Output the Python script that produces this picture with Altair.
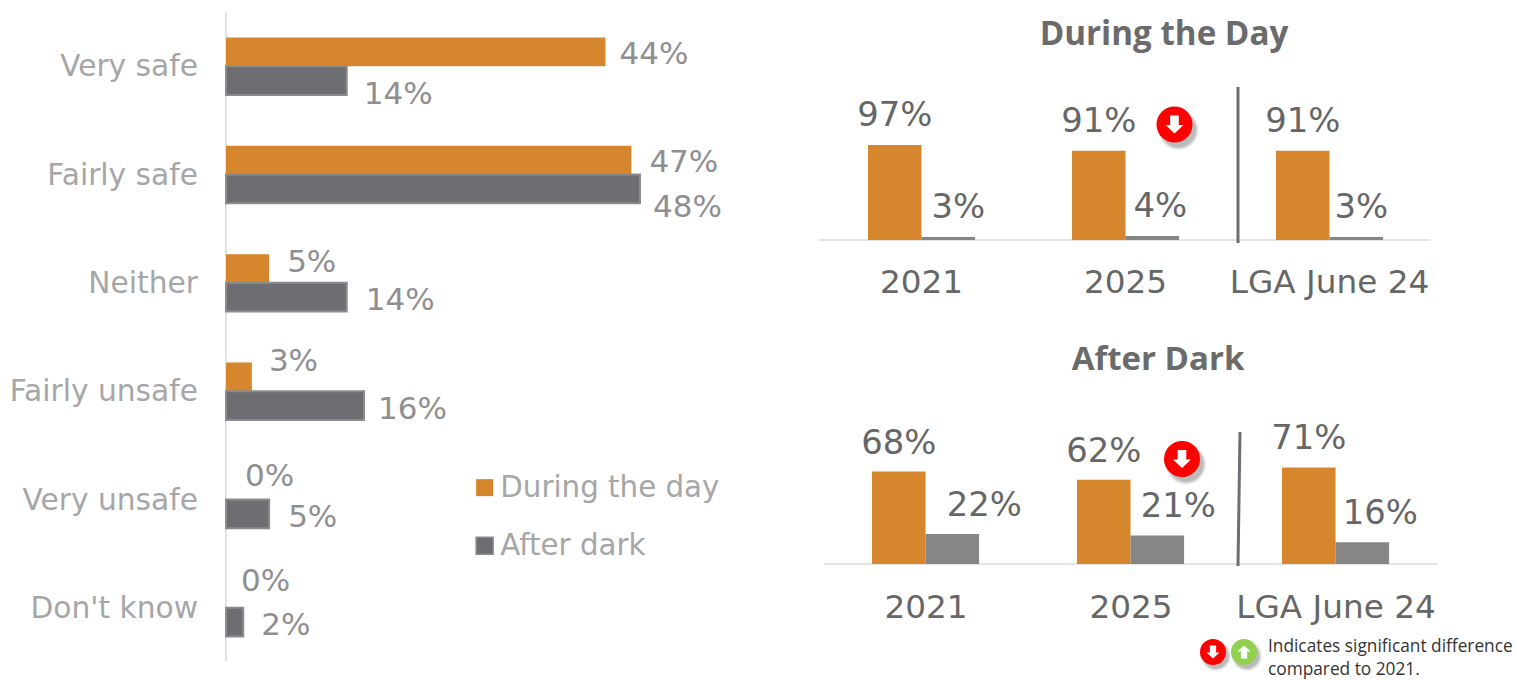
import altair as alt
import pandas as pd

# Overall perception of safety by time of day
CATEGORIES = ["Very safe", "Fairly safe", "Neither", "Fairly unsafe", "Very unsafe", "Don't know"]
DAY_VALUES = [44, 47, 5, 3, 0, 0]
DARK_VALUES = [14, 48, 14, 16, 5, 2]
SERIES = ["During the day", "After dark"]

# Net safe / net unsafe comparison across survey waves
WAVES = ["2021", "2025", "LGA June 24"]
DAY_SAFE = [97, 91, 91]
DAY_UNSAFE = [3, 4, 3]
DARK_SAFE = [68, 62, 71]
DARK_UNSAFE = [22, 21, 16]
MEASURES = ["Safe", "Unsafe"]

ORANGE = "#D6862D"
DARK_GREY = "#6D6E71"
MID_GREY = "#868686"
LABEL_GREY = "#A6A6A8"
VALUE_GREY = "#8F8F91"
RIGHT_TEXT = "#666666"
FONT = "DejaVu Sans"
TITLE_FONT = "Open Sans"

# Hand placement of value labels that sit away from their bars: (dx, dy)
LEFT_NUDGE = {
    ("Very safe", SERIES[0]): (14, 3), ("Very safe", SERIES[1]): (17, 14),
    ("Fairly safe", SERIES[0]): (18, 3), ("Fairly safe", SERIES[1]): (13, 19),
    ("Neither", SERIES[0]): (18, -5), ("Neither", SERIES[1]): (19, 4),
    ("Fairly unsafe", SERIES[0]): (17, -15), ("Fairly unsafe", SERIES[1]): (14, 4),
    ("Very unsafe", SERIES[0]): (19, -8), ("Very unsafe", SERIES[1]): (19, 4),
    ("Don't know", SERIES[0]): (15, -11), ("Don't know", SERIES[1]): (18, 4),
}
TOP_NUDGE = {("2021", "Unsafe"): 10, ("2025", "Unsafe"): 8, ("LGA June 24", "Unsafe"): 5}
BOTTOM_NUDGE = {("2021", "Unsafe"): 32, ("2025", "Unsafe"): 21, ("LGA June 24", "Unsafe"): 18}

ARROW_DOWN = "M-0.24,-0.5 L0.24,-0.5 L0.24,0.03 L0.5,0.03 L0,0.5 L-0.5,0.03 L-0.24,0.03 Z"
ARROW_UP = "M-0.24,0.5 L0.24,0.5 L0.24,-0.03 L0.5,-0.03 L0,-0.5 L-0.5,-0.03 L-0.24,-0.03 Z"

left_rows = pd.DataFrame(
    [{"category": c, "series": SERIES[0], "value": d} for c, d in zip(CATEGORIES, DAY_VALUES)]
    + [{"category": c, "series": SERIES[1], "value": d} for c, d in zip(CATEGORIES, DARK_VALUES)]
)
left_rows["label"] = left_rows["value"].astype(str) + "%"

blank = pd.DataFrame({"k": [0]})


def fixed_text(text, x, y, size, color, font=FONT, weight="normal", align="center"):
    return (
        alt.Chart(blank)
        .mark_text(text=text, fontSize=size, color=color, font=font, fontWeight=weight,
                   align=align, baseline="middle")
        .encode(x=alt.value(x), y=alt.value(y))
    )


def badge(x, y, radius, fill, arrow):
    # Circle with a soft drop shadow built from stacked translucent discs
    parts = []
    for grow, alpha in [(5, 0.05), (3, 0.08), (1, 0.10), (-1, 0.14)]:
        parts.append(
            alt.Chart(blank)
            .mark_circle(color="#333333", opacity=alpha, size=(2 * (radius + grow / 2)) ** 2)
            .encode(x=alt.value(x + radius * 0.22), y=alt.value(y + radius * 0.3))
        )
    parts.append(
        alt.Chart(blank).mark_circle(color=fill, opacity=1, size=(2 * radius) ** 2).encode(
            x=alt.value(x), y=alt.value(y))
    )
    parts.append(
        alt.Chart(blank)
        .mark_point(shape=arrow, filled=True, color="white", opacity=1, size=(radius * 2.0) ** 2, strokeWidth=0)
        .encode(x=alt.value(x), y=alt.value(y))
    )
    return parts


# Left-hand grouped bars
left_y = alt.Y("category:N", axis=None, sort=CATEGORIES,
               scale=alt.Scale(domain=CATEGORIES, range=[12, 662], paddingInner=0.47, paddingOuter=0.235))
left_x = alt.X("value:Q", axis=None, scale=alt.Scale(domain=[0, 48], range=[226, 640]))
left_offset = alt.YOffset("series:N", sort=SERIES, scale=alt.Scale(domain=SERIES))

left_layers = [
    alt.Chart(blank).mark_rule(color="#E3E3E3", strokeWidth=2).encode(
        x=alt.value(226), y=alt.value(12), y2=alt.value(662)),
    alt.Chart(left_rows).mark_bar(strokeWidth=2).encode(
        x=left_x, y=left_y, yOffset=left_offset,
        color=alt.Color("series:N", sort=SERIES,
                        scale=alt.Scale(domain=SERIES, range=[ORANGE, DARK_GREY]),
                        legend=alt.Legend(
                            orient="none", legendX=470, legendY=473, title=None,
                            symbolType="square", symbolSize=290, labelFontSize=29.3,
                            labelFont=FONT, labelColor=LABEL_GREY, labelOffset=1,
                            rowPadding=28, symbolOpacity=1, labelLimit=400)),
        stroke=alt.Stroke("series:N", sort=SERIES, legend=None,
                          scale=alt.Scale(domain=SERIES, range=["transparent", "#8B8C8E"])),
    ),
    alt.Chart(pd.DataFrame({"category": CATEGORIES})).mark_text(
        align="right", baseline="middle", dy=1, fontSize=29.7, color=LABEL_GREY, font=FONT
    ).encode(x=alt.value(198), y=alt.Y("category:N", axis=None, sort=CATEGORIES), text="category:N"),
]
for _, row in left_rows.iterrows():
    dx, dy = LEFT_NUDGE[(row["category"], row["series"])]
    left_layers.append(
        alt.Chart(pd.DataFrame([row.to_dict()]))
        .mark_text(align="left", baseline="middle", fontSize=31, color=VALUE_GREY, font=FONT, dx=dx, dy=dy)
        .encode(x=left_x, y=left_y, yOffset=left_offset, text="label:N")
    )
left_panel = alt.layer(*left_layers)


def wave_panel(safe, unsafe, x_range, y_range, band_pad, base_x, base_y, label_y, nudge, label_dy):
    rows = pd.DataFrame(
        [{"wave": w, "measure": MEASURES[0], "value": v} for w, v in zip(WAVES, safe)]
        + [{"wave": w, "measure": MEASURES[1], "value": v} for w, v in zip(WAVES, unsafe)]
    )
    rows["label"] = rows["value"].astype(str) + "%"
    x = alt.X("wave:N", axis=None, sort=WAVES,
              scale=alt.Scale(domain=WAVES, range=x_range, paddingInner=band_pad, paddingOuter=band_pad / 2))
    y = alt.Y("value:Q", axis=None, scale=alt.Scale(domain=[0, 100], range=y_range))
    offset = alt.XOffset("measure:N", sort=MEASURES, scale=alt.Scale(domain=MEASURES))
    layers = [
        alt.Chart(blank).mark_rule(color="#E4E4E4", strokeWidth=2).encode(
            x=alt.value(base_x[0]), x2=alt.value(base_x[1]), y=alt.value(base_y)),
        alt.Chart(rows).mark_bar().encode(
            x=x, y=y, xOffset=offset,
            color=alt.Color("measure:N", sort=MEASURES, legend=None,
                            scale=alt.Scale(domain=MEASURES, range=[ORANGE, MID_GREY])),
        ),
        alt.Chart(pd.DataFrame({"wave": WAVES})).mark_text(
            fontSize=32.7, color=RIGHT_TEXT, font=FONT, baseline="middle"
        ).encode(x=alt.X("wave:N", axis=None, sort=WAVES), y=alt.value(label_y), text="wave:N"),
    ]
    for _, row in rows.iterrows():
        layers.append(
            alt.Chart(pd.DataFrame([row.to_dict()]))
            .mark_text(fontSize=33.8, color=RIGHT_TEXT, font=FONT, baseline="middle",
                       dx=nudge.get((row["wave"], row["measure"]), 0), dy=label_dy)
            .encode(x=x, y=y, xOffset=offset, text="label:N")
        )
    return alt.layer(*layers).resolve_scale(color="shared")


top_panel = wave_panel(DAY_SAFE, DAY_UNSAFE, [819.5, 1431.5], [240, 142], 0.475,
                       (819, 1430), 240, 283, TOP_NUDGE, -29)
bottom_panel = wave_panel(DARK_SAFE, DARK_UNSAFE, [823.5, 1438.5], [564, 428], 0.473,
                          (824, 1437), 564, 608, BOTTOM_NUDGE, -28)

annotations = [
    fixed_text("During the Day", 1164, 34.5, 33.2, "#6B6B6B", TITLE_FONT, "bold"),
    fixed_text("After Dark", 1158, 359.5, 33, "#6B6B6B", TITLE_FONT, "bold"),
    alt.Chart(blank).mark_rule(color=DARK_GREY, strokeWidth=3).encode(
        x=alt.value(1238), y=alt.value(87), y2=alt.value(243)),
    alt.Chart(blank).mark_rule(color=DARK_GREY, strokeWidth=3).encode(
        x=alt.value(1240), x2=alt.value(1238), y=alt.value(432), y2=alt.value(566)),
    *badge(1174.5, 124.5, 18, "#FF0000", ARROW_DOWN),
    *badge(1182, 459, 18, "#FF0000", ARROW_DOWN),
    *badge(1213, 652, 13, "#FF0000", ARROW_DOWN),
    *badge(1244, 652, 13, "#92D050", ARROW_UP),
    fixed_text("Indicates significant difference", 1268, 647, 17.3, "#333333", "Open Sans", align="left"),
    fixed_text("compared to 2021.", 1268, 670, 17.3, "#333333", "Open Sans", align="left"),
]

chart = (
    alt.layer(left_panel, top_panel, bottom_panel, *annotations)
    .resolve_scale(x="independent", y="independent", color="independent", stroke="independent")
    .properties(width=1517, height=680, padding=0, autosize=alt.AutoSizeParams(type="none"))
    .configure_view(stroke=None)
)

chart.save("out.html", embed_options={"renderer": "svg", "actions": False})
